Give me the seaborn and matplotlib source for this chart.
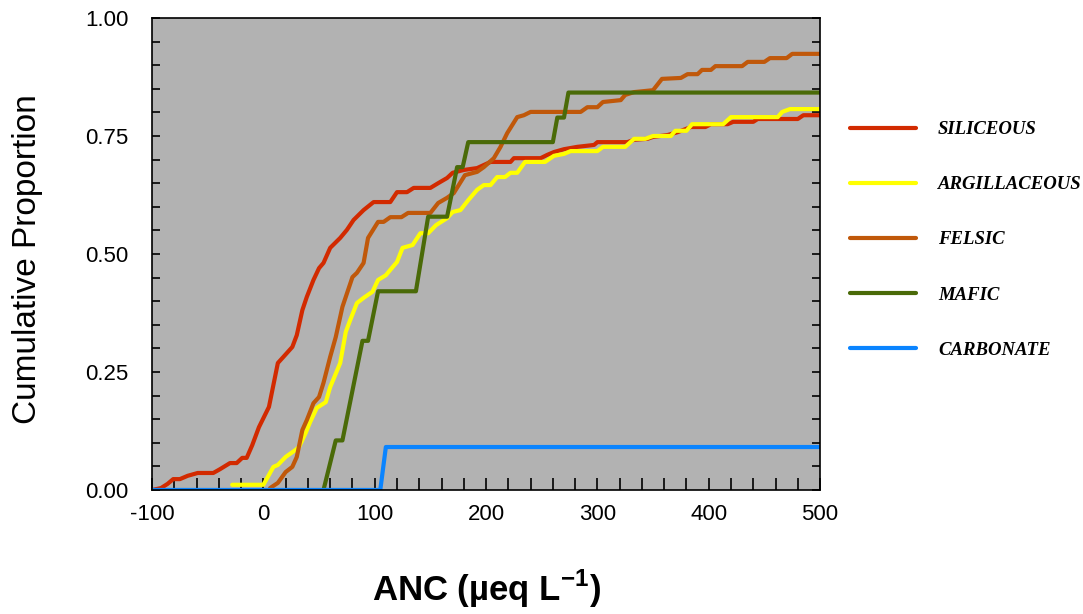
import matplotlib
matplotlib.use("Agg")
import matplotlib.pyplot as plt
import pandas as pd
import seaborn as sns
from matplotlib.lines import Line2D
from matplotlib.ticker import MultipleLocator

# lithology classes, in legend order
litologias = ["SILICEOUS", "ARGILLACEOUS", "FELSIC", "MAFIC", "CARBONATE"]
cores = ["#d22a00", "#ffff00", "#c0580a", "#4a6a08", "#0a84ff"]

# cumulative distributions (ANC in ueq/L, proportion)
siliceous_anc = [-100, -92, -86, -81, -75, -68, -59, -45, -39, -30, -24, -19, -15, -10, -4, 5,
                 13, 18, 26, 30, 35, 39, 45, 50, 54, 60, 69, 75, 81, 90, 99, 114, 120, 129,
                 135, 150, 157, 165, 170, 180, 192, 204, 222, 225, 249, 255, 261, 270, 282,
                 297, 300, 327, 333, 345, 350, 363, 372, 384, 397, 402, 417, 422, 440, 444,
                 480, 485, 500]
siliceous_prop = [0, 0.004, 0.013, 0.023, 0.023, 0.03, 0.036, 0.036, 0.044, 0.057, 0.057,
                  0.068, 0.068, 0.095, 0.133, 0.176, 0.269, 0.282, 0.303, 0.328, 0.381,
                  0.409, 0.445, 0.470, 0.481, 0.513, 0.534, 0.551, 0.572, 0.593, 0.610,
                  0.610, 0.631, 0.631, 0.640, 0.640, 0.650, 0.661, 0.672, 0.678, 0.682,
                  0.695, 0.695, 0.703, 0.703, 0.710, 0.716, 0.722, 0.727, 0.731, 0.737,
                  0.737, 0.742, 0.744, 0.748, 0.752, 0.758, 0.769, 0.769, 0.775, 0.775,
                  0.780, 0.780, 0.786, 0.786, 0.794, 0.794]

argillaceous_anc = [-28, 0, 5, 9, 13, 20, 29, 32, 38, 42, 48, 56, 60, 69, 74, 78, 84, 90, 98,
                    103, 110, 116, 120, 125, 134, 141, 148, 155, 165, 170, 177, 184, 192, 198,
                    204, 210, 217, 222, 228, 235, 253, 261, 270, 276, 300, 305, 325, 333, 343,
                    350, 366, 370, 380, 385, 413, 420, 462, 466, 473, 500]
argillaceous_prop = [0.011, 0.011, 0.032, 0.049, 0.053, 0.070, 0.085, 0.091, 0.121, 0.144,
                     0.174, 0.186, 0.218, 0.269, 0.335, 0.360, 0.396, 0.407, 0.420, 0.445,
                     0.455, 0.472, 0.483, 0.513, 0.519, 0.544, 0.544, 0.561, 0.576, 0.589,
                     0.593, 0.614, 0.636, 0.646, 0.646, 0.663, 0.663, 0.672, 0.672, 0.695,
                     0.695, 0.708, 0.712, 0.718, 0.718, 0.727, 0.727, 0.744, 0.744, 0.750,
                     0.750, 0.761, 0.761, 0.775, 0.775, 0.790, 0.790, 0.801, 0.807, 0.807]

felsic_anc = [6, 13, 20, 26, 30, 35, 39, 45, 50, 54, 60, 65, 71, 80, 84, 90, 94, 103, 108, 114,
              124, 130, 150, 157, 165, 171, 181, 192, 198, 207, 213, 219, 228, 234, 240, 285,
              291, 300, 305, 321, 325, 333, 350, 358, 375, 381, 390, 394, 402, 406, 430, 435,
              450, 455, 470, 475, 500]
felsic_prop = [0.004, 0.015, 0.038, 0.049, 0.070, 0.127, 0.148, 0.184, 0.197, 0.227, 0.282,
               0.324, 0.388, 0.451, 0.460, 0.481, 0.534, 0.568, 0.568, 0.578, 0.578, 0.587,
               0.587, 0.608, 0.619, 0.629, 0.667, 0.674, 0.684, 0.703, 0.727, 0.756, 0.790,
               0.794, 0.801, 0.801, 0.811, 0.811, 0.822, 0.826, 0.837, 0.843, 0.847, 0.871,
               0.873, 0.881, 0.881, 0.890, 0.890, 0.898, 0.898, 0.907, 0.907, 0.915, 0.915,
               0.924, 0.924]

mafic_anc = [54, 65, 71, 89, 94, 103, 137, 148, 165, 174, 179, 184, 260, 264, 270, 274, 500]
mafic_prop = [0, 0.105, 0.105, 0.316, 0.316, 0.421, 0.421, 0.579, 0.579, 0.684, 0.684,
              0.737, 0.737, 0.789, 0.789, 0.842, 0.842]

carbonate_anc = [-100, 105, 110, 500]
carbonate_prop = [0, 0, 0.091, 0.091]

series = {
    "SILICEOUS": (siliceous_anc, siliceous_prop),
    "ARGILLACEOUS": (argillaceous_anc, argillaceous_prop),
    "FELSIC": (felsic_anc, felsic_prop),
    "MAFIC": (mafic_anc, mafic_prop),
    "CARBONATE": (carbonate_anc, carbonate_prop),
}

df = pd.concat(
    [pd.DataFrame({"ANC": x, "Prop": y, "Lito": nome}) for nome, (x, y) in series.items()],
    ignore_index=True,
)

sns.set_style("ticks")
plt.rcParams["font.family"] = ["Liberation Sans", "DejaVu Sans"]
plt.rcParams["axes.unicode_minus"] = False
plt.rcParams["text.color"] = "black"
plt.rcParams["axes.labelcolor"] = "black"
plt.rcParams["xtick.color"] = "black"
plt.rcParams["ytick.color"] = "black"

fig = plt.figure(figsize=(10.83, 6.14), dpi=100)
ax = fig.add_axes([0.1404, 0.2020, 0.6168, 0.7687])
ax.set_facecolor("#b2b2b2")

paleta = dict(zip(litologias, cores))
sns.lineplot(
    data=df, x="ANC", y="Prop", hue="Lito", hue_order=litologias, palette=paleta,
    estimator=None, sort=False, linewidth=3, legend=False, ax=ax,
)

ax.set_xlim(-100, 500)
ax.set_ylim(0, 1)
ax.set_xticks(range(-100, 501, 100))
ax.set_yticks([0, 0.25, 0.5, 0.75, 1.0])
ax.set_yticklabels(["0.00", "0.25", "0.50", "0.75", "1.00"])
ax.xaxis.set_minor_locator(MultipleLocator(20))
ax.yaxis.set_minor_locator(MultipleLocator(0.05))
ax.tick_params(axis="x", which="both", direction="in", top=False, length=8.5, width=1.2,
               labelsize=16, pad=10, colors="black")
ax.tick_params(axis="y", which="both", direction="in", left=True, right=True, length=6,
               width=1.2, labelsize=16, pad=17, colors="black")
for sp in ax.spines.values():
    sp.set_visible(True)
    sp.set_linewidth(1.2)
    sp.set_color("black")

ax.set_xlabel("ANC (µeq L$^{\\mathregular{-1}}$)", fontsize=25, fontweight="bold",
              color="black")
ax.xaxis.set_label_coords(0.5, -0.165)
ax.set_ylabel("Cumulative Proportion", fontsize=24, color="black")
ax.yaxis.set_label_coords(-0.164, 0.49)

handles = [Line2D([0], [0], color=c, linewidth=3) for c in cores]
fig.legend(
    handles, litologias, loc="upper left", bbox_to_anchor=(850 / 1083, 1 - 121 / 614),
    frameon=False, borderpad=0, borderaxespad=0, handlelength=3.5, handletextpad=1.2,
    labelspacing=2.03, labelcolor="black",
    prop=dict(family="Liberation Serif", weight="bold", style="italic", size=13.5),
)

fig.savefig("out.png", dpi=100)
